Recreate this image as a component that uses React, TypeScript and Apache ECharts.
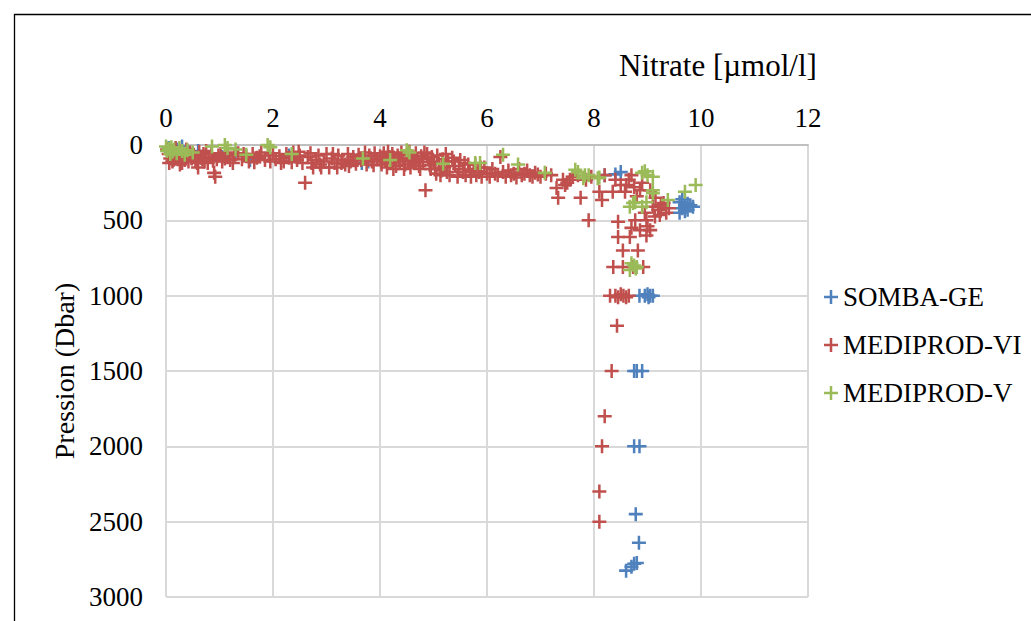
import React, { useEffect, useRef } from "react";
import * as echarts from "echarts";

const xTicks = [0, 2, 4, 6, 8, 10, 12];
const yTicks = [0, 500, 1000, 1500, 2000, 2500, 3000];
const seriesNames = ["SOMBA-GE", "MEDIPROD-VI", "MEDIPROD-V"];
const seriesColors = ["#4F81BD", "#C0504D", "#9BBB59"];

// [nitrate µmol/l, pression dbar]
const sombaGE: number[][] = [
  [0.05, 20], [0.1, 50], [0.2, 30], [0.3, 10], [0.45, 60], [0.6, 40], [1.05, 80], [1.3, 60],
  [1.57, 100], [2.3, 70], [3.66, 120], [3.78, 110], [4.6, 90], [8.2, 200], [8.4, 195], [8.5, 180],
  [9.6, 380], [9.65, 420], [9.7, 400], [9.75, 390], [9.8, 400], [9.85, 410], [9.6, 450], [9.7, 440],
  [9.65, 360], [9.75, 430],
  [8.85, 1000], [8.95, 1000], [9.0, 990], [9.02, 1010], [9.05, 1000], [9.1, 1000],
  [8.75, 1500], [8.8, 1500], [8.9, 1500], [8.75, 2000], [8.85, 2000],
  [8.78, 2450], [8.84, 2640], [8.75, 2780], [8.8, 2775], [8.7, 2800], [8.6, 2825],
];

const medi6: number[][] = [
  [0.02, 30], [0.05, 60], [0.08, 90], [0.1, 40], [0.12, 110], [0.15, 70], [0.18, 20], [0.2, 50],
  [0.22, 95], [0.25, 80], [0.28, 40], [0.3, 120], [0.32, 60], [0.35, 100], [0.38, 30], [0.4, 75],
  [0.42, 110], [0.45, 50], [0.48, 90], [0.06, 120], [0.14, 100], [0.26, 130], [0.36, 70],
  [0.52, 65], [0.55, 100], [0.6, 150], [0.62, 45], [0.65, 85], [0.7, 60], [0.72, 110], [0.75, 40],
  [0.8, 80], [0.85, 55], [0.9, 185], [0.92, 210], [0.95, 95], [0.98, 70], [0.58, 120], [0.68, 95],
  [0.78, 120], [0.88, 105],
  [1.02, 60], [1.1, 90], [1.15, 50], [1.2, 100], [1.28, 70], [1.35, 55], [1.42, 95], [1.5, 75],
  [1.55, 110], [1.62, 60], [1.7, 85], [1.78, 50], [1.85, 100], [1.92, 70], [1.05, 110], [1.25, 120],
  [1.45, 60], [1.65, 115], [1.75, 75], [1.95, 110],
  [2.0, 55], [2.05, 95], [2.12, 75], [2.2, 110], [2.25, 60], [2.3, 85], [2.38, 50], [2.45, 100],
  [2.5, 70], [2.55, 120], [2.6, 250], [2.65, 80], [2.7, 55], [2.75, 150], [2.8, 100], [2.85, 70],
  [2.9, 150], [2.95, 110], [3.0, 60], [2.15, 120], [2.35, 115], [2.48, 45], [2.72, 120], [2.88, 130],
  [3.05, 150], [3.1, 90], [3.15, 120], [3.2, 150], [3.22, 70], [3.3, 100], [3.35, 130], [3.4, 60],
  [3.45, 110], [3.5, 80], [3.55, 125], [3.6, 65], [3.65, 100], [3.7, 90], [3.75, 130], [3.8, 70],
  [3.85, 110], [3.9, 55], [3.95, 95], [3.12, 60], [3.28, 120], [3.42, 140], [3.58, 100], [3.72, 50],
  [3.88, 135],
  [4.0, 75], [4.03, 130], [4.07, 55], [4.1, 100], [4.13, 150], [4.17, 80], [4.2, 120], [4.23, 60],
  [4.27, 100], [4.3, 140], [4.33, 70], [4.37, 110], [4.4, 50], [4.43, 90], [4.47, 130], [4.5, 65],
  [4.53, 105], [4.57, 150], [4.6, 80], [4.63, 120], [4.67, 55], [4.7, 100], [4.73, 140], [4.77, 75],
  [4.8, 115], [4.85, 300], [4.88, 60], [4.9, 95], [4.93, 135], [4.97, 80], [4.05, 90], [4.15, 45],
  [4.25, 160], [4.35, 90], [4.45, 160], [4.55, 45], [4.65, 90], [4.75, 160], [4.83, 50], [4.95, 160],
  [5.0, 110], [5.03, 160], [5.07, 70], [5.1, 125], [5.13, 200], [5.17, 95], [5.2, 150], [5.23, 60],
  [5.27, 110], [5.3, 200], [5.35, 85], [5.4, 140], [5.45, 210], [5.5, 100], [5.55, 180], [5.6, 200],
  [5.65, 130], [5.7, 210], [5.75, 160], [5.8, 200], [5.85, 180], [5.9, 210], [5.95, 150],
  [5.05, 190], [5.15, 170], [5.25, 180], [5.38, 110], [5.48, 160], [5.58, 120], [5.68, 170],
  [5.78, 130], [5.88, 150],
  [6.0, 190], [6.05, 210], [6.1, 160], [6.15, 190], [6.2, 200], [6.25, 80], [6.3, 180], [6.35, 210],
  [6.4, 170], [6.45, 200], [6.5, 190], [6.6, 160], [6.7, 190], [6.8, 200], [6.9, 185], [7.0, 210],
  [7.1, 190], [7.2, 200], [6.55, 215], [6.65, 200], [6.75, 170], [6.85, 210], [6.95, 195],
  [7.3, 285], [7.33, 350], [7.42, 230], [7.46, 265], [7.55, 230], [7.7, 200], [7.75, 350], [7.85, 230],
  [7.9, 500], [7.95, 210], [7.6, 210], [7.5, 250],
  [8.1, 310], [8.15, 365], [8.2, 200], [8.35, 310], [8.4, 230], [8.45, 510], [8.5, 265], [8.58, 310],
  [8.6, 265], [8.65, 230], [8.7, 200], [8.77, 500], [8.86, 300], [8.9, 250], [8.98, 500], [9.05, 300],
  [9.1, 410], [9.14, 475], [9.2, 430], [9.23, 465], [9.3, 385], [9.35, 450], [9.4, 420],
  [8.75, 280], [8.8, 340], [8.95, 450], [9.0, 540], [9.15, 350], [9.25, 400], [8.7, 550],
  [8.45, 610], [8.67, 610], [8.86, 565], [8.98, 600], [9.05, 565], [8.54, 700], [8.82, 700],
  [8.36, 810], [8.54, 810], [8.73, 810], [8.92, 810],
  [8.3, 1000], [8.4, 1000], [8.45, 1010], [8.5, 990], [8.55, 1000], [8.6, 1010], [8.65, 1000],
  [8.43, 1200], [8.33, 1500], [8.2, 1800], [8.15, 2000], [8.1, 2300], [8.1, 2500],
];

const medi5: number[][] = [
  [0.0, 10], [0.02, 40], [0.05, 25], [0.08, 60], [0.1, 15], [0.12, 45], [0.15, 30], [0.2, 55],
  [0.25, 20], [0.3, 40], [0.35, 65], [0.4, 35], [0.5, 50], [0.86, 10], [1.1, 0], [1.15, 20],
  [1.3, 30], [1.5, 65], [1.9, 0], [1.95, 15], [2.35, 60], [3.68, 90], [4.19, 100], [4.5, 35],
  [4.55, 50], [5.18, 125], [5.78, 120], [5.87, 120], [6.3, 65], [6.58, 130], [7.08, 185],
  [7.65, 165], [7.7, 180], [7.8, 220], [7.83, 200], [7.9, 200], [8.07, 220], [8.1, 215],
  [8.9, 185], [8.95, 175], [9.0, 200], [9.1, 210], [9.1, 300], [9.1, 320], [9.38, 365], [9.7, 310],
  [9.9, 265], [8.73, 385], [8.77, 380], [8.67, 410], [8.9, 410], [8.98, 380],
  [8.7, 785], [8.8, 810], [8.67, 830], [8.75, 800], [8.78, 820],
];

const PLUS = "path://M4.1,0H5.9V4.1H10V5.9H5.9V10H4.1V5.9H0V4.1H4.1Z";
const FONT = "'Liberation Serif', 'Times New Roman', serif";

export default function App() {
  const ref = useRef<HTMLDivElement>(null);
  useEffect(() => {
    if (!ref.current) return;
    const chart = echarts.init(ref.current, undefined, { renderer: "svg" });
    const datasets = [sombaGE, medi6, medi5];
    chart.setOption({
      animation: false,
      backgroundColor: "#ffffff",
      textStyle: { fontFamily: FONT },
      grid: { left: 166, top: 145, right: 223, bottom: 24 },
      graphic: [
        {
          type: "rect",
          shape: { x: 14.5, y: 14.5, width: 1100, height: 800 },
          style: { fill: "none", stroke: "#000000", lineWidth: 1.3 },
          silent: true,
        },
        {
          type: "text",
          x: 718,
          y: 65,
          style: {
            text: "Nitrate [µmol/l]",
            fontFamily: FONT,
            fontSize: 31,
            fill: "#000000",
            align: "center",
            verticalAlign: "middle",
          },
        },
      ],
      legend: {
        orient: "vertical",
        left: 819,
        top: 278,
        itemWidth: 14,
        itemHeight: 14,
        itemGap: 20,
        icon: PLUS,
        data: seriesNames,
        textStyle: { fontFamily: FONT, fontSize: 27, color: "#000000", lineHeight: 28 },
      },
      xAxis: {
        type: "value",
        position: "top",
        min: xTicks[0],
        max: xTicks[xTicks.length - 1],
        interval: 2,
        axisLine: { show: true, lineStyle: { color: "#bfbfbf", width: 2 } },
        axisTick: { show: false },
        axisLabel: { fontFamily: FONT, fontSize: 27, color: "#000000", margin: 14 },
        splitLine: { show: true, lineStyle: { color: "#d9d9d9", width: 2 } },
      },
      yAxis: {
        type: "value",
        inverse: true,
        min: yTicks[0],
        max: yTicks[yTicks.length - 1],
        interval: 500,
        name: "Pression (Dbar)",
        nameLocation: "middle",
        nameGap: 86,
        nameTextStyle: { fontFamily: FONT, fontSize: 28, color: "#000000" },
        axisLine: { show: false },
        axisTick: { show: false },
        axisLabel: {
          fontFamily: FONT,
          fontSize: 27,
          color: "#000000",
          margin: 23,
          formatter: (v: number) => String(v),
        },
        splitLine: { show: true, lineStyle: { color: "#d9d9d9", width: 2 } },
      },
      series: datasets.map((d, i) => ({
        name: seriesNames[i],
        type: "scatter",
        symbol: PLUS,
        symbolSize: 14,
        itemStyle: { color: seriesColors[i], opacity: 1 },
        data: d,
        z: 2 + i,
      })),
    });
    return () => chart.dispose();
  }, []);
  return (
    <div
      ref={ref}
      style={{ position: "absolute", left: 0, top: 0, width: 1031, height: 621 }}
    />
  );
}
